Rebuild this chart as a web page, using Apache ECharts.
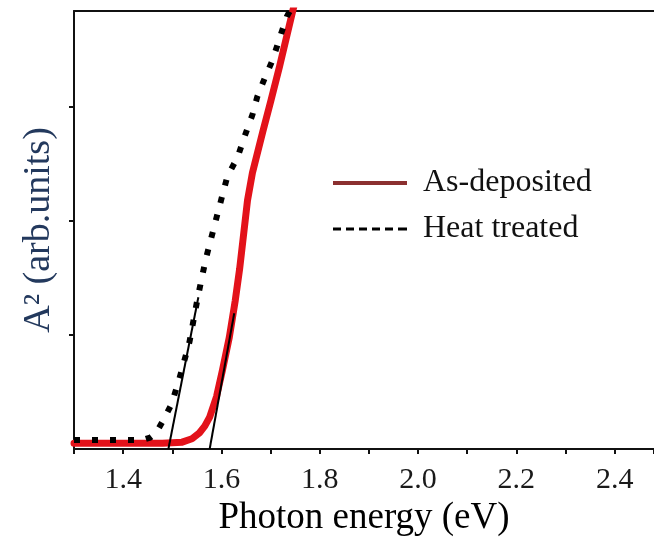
<!DOCTYPE html>
<html>
<head>
<meta charset="utf-8">
<script src="https://cdn.jsdelivr.net/npm/echarts@6/dist/echarts.min.js"></script>
<style>html,body{margin:0;padding:0;background:#fff;}#c{width:654px;height:539px;}</style>
</head>
<body>
<div id="c"></div>
<script>
// As-deposited (red solid)
const asDepEnergy = [1.30, 1.40, 1.48, 1.52, 1.54, 1.555, 1.566, 1.576, 1.590, 1.602, 1.616, 1.628, 1.637, 1.653, 1.663, 1.684, 1.701, 1.718, 1.745, 1.76];
const asDepValue  = [0.05, 0.05, 0.05, 0.06, 0.09, 0.14, 0.20, 0.28, 0.46, 0.69, 0.98, 1.30, 1.58, 2.18, 2.42, 2.78, 3.06, 3.35, 3.84, 4.1];
// Heat treated (black dotted)
const heatEnergy = [1.30, 1.40, 1.44, 1.455, 1.467, 1.484, 1.498, 1.514, 1.535, 1.551, 1.559, 1.569, 1.590, 1.612, 1.633, 1.647, 1.663, 1.673, 1.688, 1.704, 1.722, 1.733, 1.739, 1.75];
const heatValue  = [0.08, 0.08, 0.08, 0.10, 0.14, 0.27, 0.39, 0.61, 0.94, 1.31, 1.48, 1.68, 2.03, 2.39, 2.56, 2.74, 2.93, 3.09, 3.25, 3.41, 3.65, 3.79, 3.84, 4.0];
// Tangent (extrapolation) lines
const tangentHeatEnergy = [1.492, 1.553];
const tangentHeatValue  = [0, 1.33];
const tangentAsDepEnergy = [1.576, 1.626];
const tangentAsDepValue  = [0, 1.19];
// Axis settings
const xMin = 1.3, xMax = 2.48, xInterval = 0.1;
const yMin = 0, yMax = 3.84, yInterval = 1;
const seriesNames = ['As-deposited', 'Heat treated'];

const zip = (a, b) => a.map((v, i) => [v, b[i]]);
const serif = '"Liberation Serif", "DejaVu Serif", serif';
const dashIcon = 'path://M0,0h8v3h-8z M13,0h8v3h-8z M26,0h8v3h-8z M39,0h8v3h-8z M52,0h8v3h-8z M65,0h9v3h-9z';

const chart = echarts.init(document.getElementById('c'), null, {renderer: 'canvas'});
chart.setOption({
  animation: false,
  backgroundColor: '#fff',
  grid: {left: 74, right: 0, top: 11, bottom: 90, show: false, containLabel: false, outerBoundsMode: 'none'},
  xAxis: [{
    type: 'value', min: xMin, max: xMax, interval: xInterval,
    name: 'Photon energy (eV)', nameLocation: 'middle', nameGap: 50,
    nameTextStyle: {fontFamily: serif, fontSize: 37, color: '#000'},
    axisLine: {show: true, onZero: false, lineStyle: {color: '#111', width: 2}},
    axisTick: {show: true, inside: false, length: 5, lineStyle: {color: '#111', width: 2}},
    axisLabel: {
      margin: 16, fontFamily: serif, fontSize: 30, color: '#1a1a1a',
      formatter: v => { const k = Math.round(v * 10); return (k % 2 === 0 && k < 25 && Math.abs(v * 10 - k) < 1e-6) ? (k / 10).toFixed(1) : ''; }
    },
    splitLine: {show: false}
  }, {
    type: 'value', position: 'top', min: xMin, max: xMax,
    axisLine: {show: true, onZero: false, lineStyle: {color: '#111', width: 2}},
    axisTick: {show: false}, axisLabel: {show: false}, splitLine: {show: false}
  }],
  yAxis: {
    type: 'value', min: yMin, max: yMax, interval: yInterval,
    name: 'A\u00b2 (arb.units)', nameLocation: 'middle', nameGap: 16, nameRotate: 90,
    nameTextStyle: {color: '#23395d', fontFamily: serif, fontSize: 38},
    axisLine: {show: true, onZero: false, lineStyle: {color: '#111', width: 2}},
    axisTick: {show: true, inside: false, length: 5, lineStyle: {color: '#111', width: 2},
      customValues: [1, 2, 3]},
    axisLabel: {show: false},
    splitLine: {show: false}
  },
  legend: {
    orient: 'vertical', left: 328, top: 162, itemWidth: 74, itemHeight: 4, itemGap: 14,
    textStyle: {fontFamily: serif, fontSize: 32, color: '#111', padding: [0, 0, 0, 11], lineHeight: 32},
    data: [
      {name: seriesNames[0], icon: 'rect', itemStyle: {color: '#8b3030', borderWidth: 0}, lineStyle: {color: '#8b3030', width: 0, opacity: 0}},
      {name: seriesNames[1], icon: dashIcon, itemStyle: {color: '#000', borderWidth: 0}, lineStyle: {color: '#000', width: 0, opacity: 0}}
    ]
  },
  series: [
    {
      name: seriesNames[0], type: 'line', data: zip(asDepEnergy, asDepValue),
      symbol: 'none', clip: true, z: 2,
      lineStyle: {color: '#e3121a', width: 7, cap: 'round', join: 'round'},
      itemStyle: {color: '#e3121a'}
    },
    {
      name: seriesNames[1], type: 'line', data: zip(heatEnergy, heatValue),
      symbol: 'none', clip: true, z: 3,
      lineStyle: {color: '#000', width: 6, type: [6, 12], cap: 'butt'},
      itemStyle: {color: '#000'}
    },
    {
      name: 'tangent1', type: 'line', data: zip(tangentHeatEnergy, tangentHeatValue),
      symbol: 'none', clip: true, z: 4, silent: true,
      lineStyle: {color: '#000', width: 2}
    },
    {
      name: 'tangent2', type: 'line', data: zip(tangentAsDepEnergy, tangentAsDepValue),
      symbol: 'none', clip: true, z: 4, silent: true,
      lineStyle: {color: '#000', width: 2}
    }
  ]
});
</script>
</body>
</html>
